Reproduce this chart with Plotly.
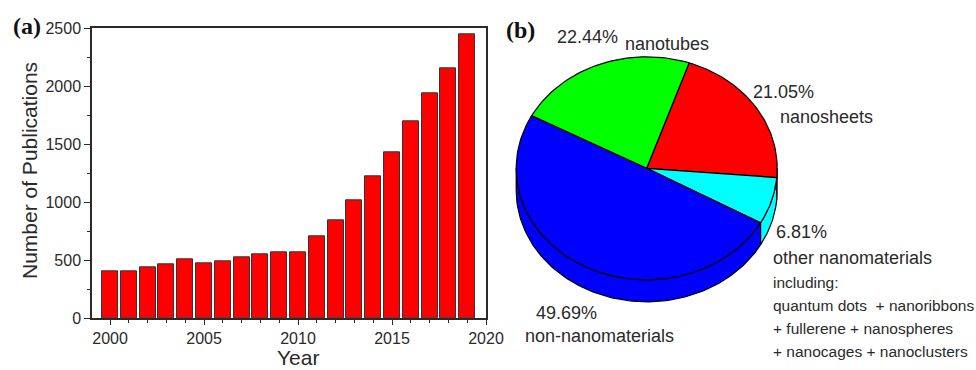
import numpy as np
import plotly.graph_objects as go

# ---- data ---------------------------------------------------------------
years = list(range(2000, 2020))
publications = [402, 408, 440, 466, 505, 471, 488, 528, 554, 572,
                566, 710, 847, 1014, 1221, 1434, 1698, 1942, 2152, 2451]

materials = ["nanosheets", "other nanomaterials", "non-nanomaterials", "nanotubes"]
shares = [21.05, 6.81, 49.69, 22.44]
slice_colors = ["#FF0000", "#00FFFF", "#0000FF", "#00FF00"]

x_ticks = [2000, 2005, 2010, 2015, 2020]
y_ticks = [0, 500, 1000, 1500, 2000, 2500]

# ---- styling --------------------------------------------------------------
W, H = 976, 370
SANS = "Liberation Sans, Arial, sans-serif"
SERIF = "Liberation Serif, Times New Roman, serif"
INK = "#2a2a2a"

fig = go.Figure()

# (a) bar chart
fig.add_trace(go.Bar(
    x=years, y=publications, width=0.85,
    marker=dict(color="#FF0000", line=dict(color="#333333", width=1)),
    xaxis="x", yaxis="y", showlegend=False, hoverinfo="x+y",
))

# (b) tilted 3D pie drawn on a pixel-scaled axis pair
cx, cy, a, b, depth = 646.7, 168.3, 130.5, 111.5, 22.0
start_angle = 71.0  # degrees, slices run clockwise


def arc(t0, t1):
    n = max(int(abs(t1 - t0) / 1.5) + 2, 3)
    t = np.radians(np.linspace(t0, t1, n))
    return cx + a * np.cos(t), cy - b * np.sin(t)


bounds = start_angle - np.concatenate([[0.0], np.cumsum(shares)]) * 3.6

# side walls: only the front (lower) half of the rim is visible
for i, col in enumerate(slice_colors):
    hi, lo = bounds[i], bounds[i + 1]
    s, e = max(lo, -180.0), min(hi, 0.0)
    if e <= s:
        continue
    tx, ty = arc(e, s)
    bx, by = arc(s, e)
    xs = np.concatenate([tx, bx])
    ys = np.concatenate([ty, by + depth])
    fig.add_trace(go.Scatter(
        x=np.append(xs, xs[0]), y=np.append(ys, ys[0]), mode="lines",
        fill="toself", fillcolor=col, line=dict(color="black", width=1.2),
        xaxis="x2", yaxis="y2", showlegend=False, hoverinfo="skip",
    ))

# top face of each slice
for i, (name, val, col) in enumerate(zip(materials, shares, slice_colors)):
    ax_, ay_ = arc(bounds[i], bounds[i + 1])
    xs = np.concatenate([[cx], ax_, [cx]])
    ys = np.concatenate([[cy], ay_, [cy]])
    fig.add_trace(go.Scatter(
        x=xs, y=ys, mode="lines", fill="toself", fillcolor=col,
        line=dict(color="black", width=1.2),
        xaxis="x2", yaxis="y2", showlegend=False,
        name=name, text=f"{name}: {val:.2f}%", hoverinfo="text",
    ))

# ---- annotations ----------------------------------------------------------
pct = {m: f"{v:.2f}%" for m, v in zip(materials, shares)}
ann = []


def label(x, y, text, size=18):
    ann.append(dict(x=x, y=y, xref="x2", yref="y2", text=text, showarrow=False,
                    xanchor="left", yanchor="middle",
                    font=dict(family=SANS, size=size, color=INK)))


label(555, 37, pct["nanotubes"])
label(623, 44, "nanotubes")
label(751, 92, pct["nanosheets"])
label(778, 117, "nanosheets")
label(774, 232, pct["other nanomaterials"])
label(771, 258, "other nanomaterials")
label(771, 282, "including:", size=15.5)
label(771, 305, "quantum dots  + nanoribbons", size=15.5)
label(771, 328, "+ fullerene + nanospheres", size=15.5)
label(771, 351, "+ nanocages + nanoclusters", size=15.5)
label(534, 313, pct["non-nanomaterials"])
label(523, 336, "non-nanomaterials")


def paper_text(x, y, text, size, family=SANS, color=INK, **kw):
    ann.append(dict(x=x / W, y=1 - y / H, xref="paper", yref="paper", text=text,
                    showarrow=False, yanchor="middle",
                    font=dict(family=family, size=size, color=color), **kw))


# panel letters
paper_text(11, 26, "<b>(a)</b>", 24, family=SERIF, color="#111", xanchor="left")
paper_text(504, 30, "<b>(b)</b>", 24, family=SERIF, color="#111", xanchor="left")

# axis titles for (a)
paper_text(298, 357, "Year", 21, xanchor="center")
paper_text(30, 171, "Number of Publications", 21, xanchor="center", textangle=-90)

axis_common = dict(
    showgrid=False, zeroline=False, showline=True, linecolor=INK, linewidth=1.5,
    mirror=True, ticks="outside", tickcolor=INK, tickwidth=1.3, automargin=False,
    tickfont=dict(family=SANS, size=16, color=INK),
)

fig.update_layout(
    width=W, height=H, margin=dict(l=0, r=0, t=0, b=0, pad=0, autoexpand=False),
    paper_bgcolor="white", plot_bgcolor="white",
    bargap=0, showlegend=False,
    xaxis=dict(domain=[92 / W, 486 / W], range=[1999.04, 2020], anchor="y",
               tickvals=x_ticks, ticklen=5,
               minor=dict(dtick=1, tick0=2000, ticks="outside", ticklen=3,
                          tickcolor=INK, tickwidth=1.2, showgrid=False),
               **axis_common),
    yaxis=dict(domain=[1 - 318.3 / H, 1 - 28.3 / H], range=[0, 2500], anchor="x",
               tickvals=y_ticks, ticklen=6,
               minor=dict(dtick=250, tick0=0, ticks="outside", ticklen=3,
                          tickcolor=INK, tickwidth=1.2, showgrid=False),
               **axis_common),
    xaxis2=dict(domain=[500 / W, 1], range=[500, 976], anchor="y2", visible=False,
                fixedrange=True, automargin=False),
    yaxis2=dict(domain=[0, 1], range=[370, 0], anchor="x2", visible=False,
                fixedrange=True, automargin=False),
    annotations=ann,
)

fig.write_html("out.html")
